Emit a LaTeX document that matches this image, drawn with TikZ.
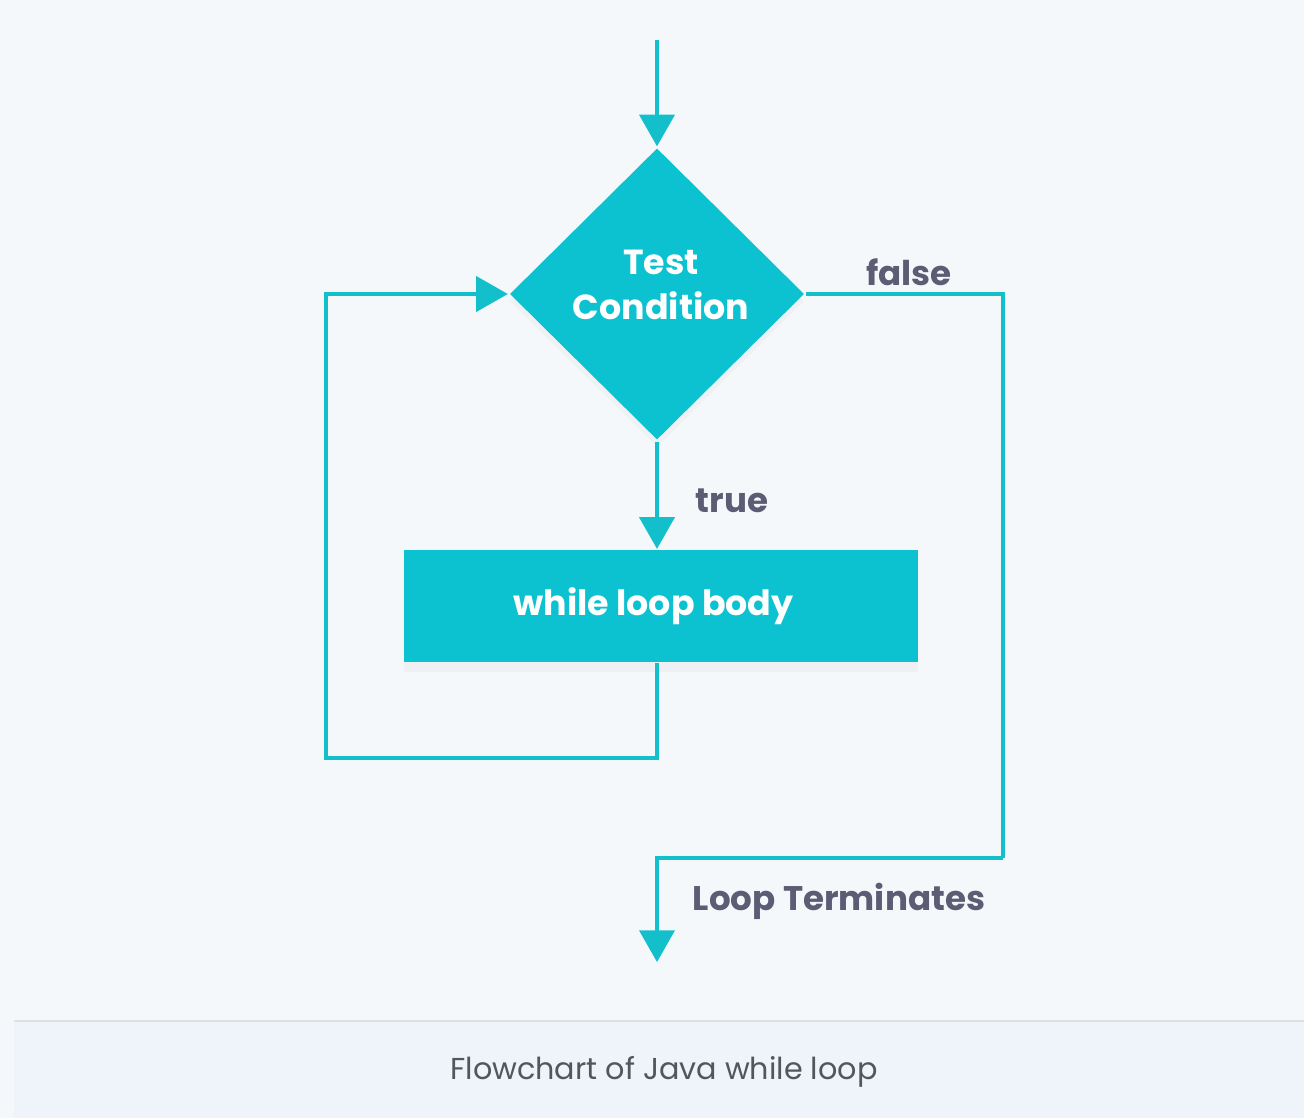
\documentclass[tikz,border=0pt]{standalone}
\usepackage{fontspec}
\setmainfont{Poppins}
\usetikzlibrary{shapes.geometric,arrows.meta,shadows}

\definecolor{teal}{HTML}{14BFCC}
\definecolor{tealfill}{HTML}{0DC2D0}
\definecolor{labelgray}{HTML}{5C5C74}
\definecolor{captiongray}{HTML}{55555F}
\definecolor{pagebg}{HTML}{F5F8FB}
\definecolor{captionbg}{HTML}{EFF3FA}

\begin{document}
\begin{tikzpicture}[x=0.01cm, y=-0.01cm]
\tikzset{ >={Triangle[width=10pt,length=9pt]}, line width=0.9pt,
  flow/.style={draw=teal, line width=0.9pt},
  decision/.style={diamond, fill=tealfill, inner sep=0pt, minimum width=2.95cm,
    minimum height=2.92cm, aspect=1,
    drop shadow={shadow xshift=0pt, shadow yshift=-2pt, opacity=0.05}},
  process/.style={rectangle, fill=tealfill, inner sep=0pt, minimum width=5.14cm,
    minimum height=1.11cm, text=white, font=\fontsize{9.9}{12}\selectfont\bfseries,
    drop shadow={shadow xshift=0pt, shadow yshift=-3pt, opacity=0.06}},
  inside/.style={text=white, align=center, font=\fontsize{9.9}{12.6}\selectfont\bfseries},
  lbl/.style={text=labelgray, font=\fontsize{9.7}{12}\selectfont\bfseries},
}

\useasboundingbox (0,0) rectangle (1304,1118);
\fill [pagebg] (0,0) rectangle (1304,1118);
\fill [captionbg] (14,1021) rectangle (1304,1118);
\draw [line width=0.6pt, black!12] (14,1021) -- (1304,1021);

\coordinate (start) at (657,40);
\coordinate (back)  at (326,758);
\coordinate (fr)    at (1003,858);
\coordinate (exit)  at (657,962);

\node [decision] (cond) at (657,294) {};
\node [inside] (condtext) at (661,285) {Test\\Condition};
\node [process]  (body) at (661,606) {\hspace*{-0.15cm}while loop body};

\draw [flow, ->, teal] (start) -- (cond.north);
\draw [flow, ->, teal] (cond.south) -- (body.north -| cond.south);
\draw [flow, ->, teal] (body.south -| cond.south) |- (back) |- (cond.west);
\draw [flow] (cond.east) -| (fr);
\draw [flow, ->, teal] (fr) -| (exit);

\node [lbl] (truelbl)  at (732,501) {true};
\node [lbl] (falselbl) at (909,272) {false};
\node [lbl] (termlbl)  at (839,901) {Loop Terminates};

\node [text=captiongray, font=\fontsize{8.6}{11}\selectfont] (caption) at (664,1072) {Flowchart of Java while loop};

\end{tikzpicture}
\end{document}
